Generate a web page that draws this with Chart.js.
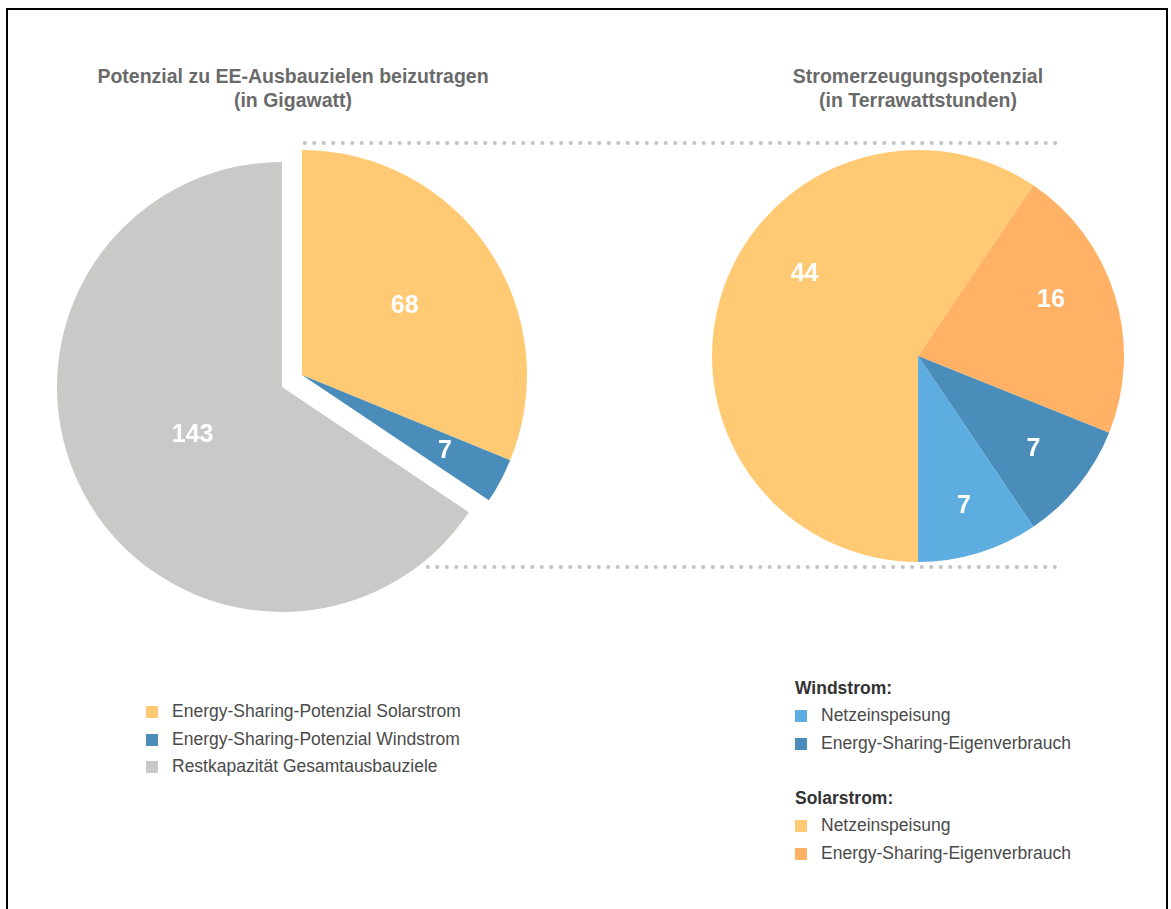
<!DOCTYPE html>
<html>
<head>
<meta charset="utf-8">
<script src="https://cdn.jsdelivr.net/npm/chart.js@4"></script>
<style>
  html, body { margin: 0; padding: 0; background: #fff; }
  body { width: 1171px; height: 909px; position: relative; overflow: hidden; font-family: "Liberation Sans", Arial, sans-serif; }
  .frame { position: absolute; left: 6px; top: 8px; width: 1162px; height: 920px; border: 2px solid #000; box-sizing: border-box; }
  .title { position: absolute; width: 560px; text-align: center; color: #6a6a6a; font-weight: bold; font-size: 19.5px; line-height: 24px; }
  canvas { position: absolute; }
  .dots { position: absolute; height: 4px; background-image: radial-gradient(circle, #c4c4c4 1.8px, transparent 2.2px); background-size: 9.5px 4px; background-repeat: repeat-x; }
  .legend { position: absolute; font-size: 17.5px; color: #4a4a4a; }
  .legend .row { position: relative; height: 27.5px; line-height: 27.5px; padding-left: 26px; white-space: nowrap; }
  .legend .sw { position: absolute; left: 0; top: 8px; width: 12px; height: 12px; }
  .legend .head { font-weight: bold; color: #333; height: 27px; line-height: 27px; }
  .legend .gap { height: 28px; }
</style>
</head>
<body>
<div class="frame"></div>

<div class="title" id="titleLeft" style="left:13px; top:64px;"></div>
<div class="title" id="titleRight" style="left:638px; top:64px;"></div>

<div class="dots" style="left:300px; top:141px; width:760px;"></div>
<div class="dots" style="left:423px; top:565px; width:637px;"></div>

<canvas id="leftRest" width="460" height="460" style="left:52px; top:157px;"></canvas>
<canvas id="leftShare" width="460" height="460" style="left:72px; top:145px;"></canvas>
<canvas id="right" width="422" height="422" style="left:707px; top:145px;"></canvas>

<div class="legend" id="legendLeft" style="left:146px; top:698px;"></div>
<div class="legend" id="legendRight" style="left:795px; top:675px;"></div>

<script>
// ---- Data ----
const leftTitle = ["Potenzial zu EE-Ausbauzielen beizutragen", "(in Gigawatt)"];
const rightTitle = ["Stromerzeugungspotenzial", "(in Terrawattstunden)"];

const leftCategories = ["Energy-Sharing-Potenzial Solarstrom", "Energy-Sharing-Potenzial Windstrom", "Restkapazität Gesamtausbauziele"];
const leftValues = [68, 7, 143];
const leftColors = ["#FFCA73", "#4A8DBB", "#C9CAC8"];

const rightCategories = ["Solarstrom: Netzeinspeisung", "Solarstrom: Energy-Sharing-Eigenverbrauch", "Windstrom: Energy-Sharing-Eigenverbrauch", "Windstrom: Netzeinspeisung"];
const rightValues = [44, 16, 7, 7];
const rightColors = ["#FFCA73", "#FFB266", "#4A8DBB", "#5EADE0"];

const rightLegendGroups = [
  { head: "Windstrom:", items: [["Netzeinspeisung", "#5EADE0"], ["Energy-Sharing-Eigenverbrauch", "#4A8DBB"]] },
  { head: "Solarstrom:", items: [["Netzeinspeisung", "#FFCA73"], ["Energy-Sharing-Eigenverbrauch", "#FFB266"]] }
];

document.getElementById('titleLeft').innerHTML = leftTitle.join('<br>');
document.getElementById('titleRight').innerHTML = rightTitle.join('<br>');

// ---- Label plugin ----
const sliceLabels = {
  id: 'sliceLabels',
  afterDatasetsDraw(chart, args, opts) {
    const ctx = chart.ctx;
    const meta = chart.getDatasetMeta(0);
    const ds = chart.data.datasets[0];
    ctx.save();
    ctx.fillStyle = '#fff';
    ctx.font = 'bold 25px "Liberation Sans", Arial, sans-serif';
    ctx.textAlign = 'center';
    ctx.textBaseline = 'middle';
    meta.data.forEach((arc, i) => {
      if (!opts.show[i]) return;
      const p = arc.getProps(['x', 'y', 'startAngle', 'endAngle', 'outerRadius'], true);
      const mid = (p.startAngle + p.endAngle) / 2 + (opts.shift ? opts.shift[i] : 0);
      const r = p.outerRadius * opts.frac[i];
      ctx.fillText(String(ds.data[i]), p.x + Math.cos(mid) * r, p.y + Math.sin(mid) * r);
    });
    ctx.restore();
  }
};

function makePie(id, values, colors, show, frac, rotation, shift) {
  return new Chart(document.getElementById(id), {
    type: 'pie',
    data: {
      labels: values.map(String),
      datasets: [{
        data: values,
        backgroundColor: colors.map((c, i) => show[i] ? c : 'rgba(0,0,0,0)'),
        borderWidth: 0
      }]
    },
    options: {
      responsive: false,
      animation: false,
      rotation: rotation,
      layout: { padding: 5 },
      plugins: {
        legend: { display: false },
        tooltip: { enabled: false },
        sliceLabels: { show: show, frac: frac, shift: shift }
      }
    },
    plugins: [sliceLabels]
  });
}

makePie('leftRest', leftValues, leftColors, [false, false, true], [0, 0, 0.45], 0);
makePie('leftShare', leftValues, leftColors, [true, true, false], [0.55, 0.72, 0], 0);
makePie('right', rightValues, rightColors, [true, true, true, true], [0.68, 0.7, 0.72, 0.76], 180, [0.33, -0.1, 0, 0]);

// ---- Legends ----
const ll = document.getElementById('legendLeft');
leftCategories.forEach((c, i) => {
  ll.insertAdjacentHTML('beforeend', `<div class="row"><span class="sw" style="background:${leftColors[i]}"></span>${c}</div>`);
});
const lr = document.getElementById('legendRight');
rightLegendGroups.forEach((g, gi) => {
  if (gi > 0) lr.insertAdjacentHTML('beforeend', '<div class="gap"></div>');
  lr.insertAdjacentHTML('beforeend', `<div class="head">${g.head}</div>`);
  g.items.forEach(([t, col]) => {
    lr.insertAdjacentHTML('beforeend', `<div class="row"><span class="sw" style="background:${col}"></span>${t}</div>`);
  });
});
</script>
</body>
</html>
